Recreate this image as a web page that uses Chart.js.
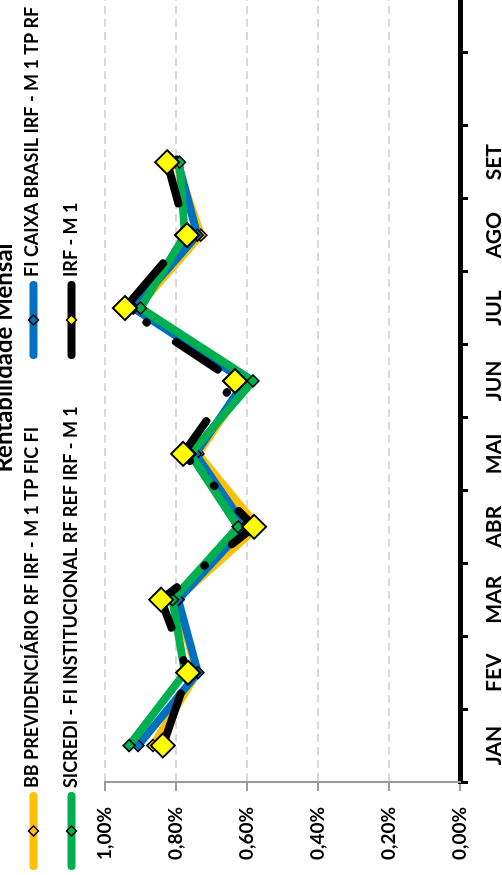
<!DOCTYPE html>
<html lang="pt-BR">
<head>
<meta charset="utf-8">
<title>Rentabilidade Mensal</title>
<script src="https://cdn.jsdelivr.net/npm/chart.js@4.4.1/dist/chart.umd.min.js"></script>
<style>
  html, body { margin: 0; padding: 0; width: 502px; height: 875px; overflow: hidden; background: #fff; }
  /* le graphique est dessiné à plat puis tourné d'un quart de tour */
  #cadre { position: absolute; left: 0; top: 875px; width: 1034px; height: 502px; transform-origin: 0 0; transform: rotate(-90deg); }
  #graphique { display: block; }
</style>
</head>
<body>
<div id="cadre"><canvas id="graphique" width="1034" height="502"></canvas></div>
<script>
// Données (rentabilité mensuelle en %)
const mois = ['JAN', 'FEV', 'MAR', 'ABR', 'MAI', 'JUN', 'JUL', 'AGO', 'SET', '', '', ''];
const etiquettesAxe = ['0,00%', '0,20%', '0,40%', '0,60%', '0,80%', '1,00%'];

const nomsSeries = [
  'BB PREVIDENCIÁRIO RF IRF - M 1 TP FIC FI',
  'FI CAIXA BRASIL IRF - M 1 TP RF',
  'SICREDI - FI INSTITUCIONAL RF REF IRF - M 1',
  'IRF - M 1'
];

const bbPrevidenciario = [0.865, 0.740, 0.800, 0.570, 0.738, 0.600, 0.910, 0.730, 0.800];
const caixaBrasil      = [0.907, 0.738, 0.794, 0.605, 0.745, 0.605, 0.920, 0.740, 0.795];
const sicredi          = [0.932, 0.775, 0.810, 0.625, 0.760, 0.583, 0.900, 0.775, 0.790];
const irfM1            = [0.837, 0.766, 0.842, 0.580, 0.780, 0.634, 0.944, 0.769, 0.825];

const couleurs = ['#FFC000', '#0070C0', '#00B050', '#000000'];
const remplissage = ['#FFC000', '#0070C0', '#00B050', '#FFFF00'];

// Titre et légende façon Excel (deux colonnes)
const enteteExcel = {
  id: 'enteteExcel',
  afterDraw(chart) {
    const ctx = chart.ctx;
    ctx.save();
    ctx.fillStyle = '#000';
    ctx.font = 'bold 24px Lato';
    ctx.textAlign = 'center';
    ctx.textBaseline = 'alphabetic';
    ctx.fillText('Rentabilidade Mensal', 517, 12);

    chart.data.datasets.forEach((ds, i) => {
      const x = i % 2 === 0 ? 9 : 520;
      const y = i < 2 ? 33.5 : 71.5;
      ctx.strokeStyle = ds.borderColor;
      ctx.lineWidth = 8;
      ctx.lineCap = 'round';
      ctx.setLineDash([]);
      ctx.beginPath();
      ctx.moveTo(x, y);
      ctx.lineTo(x + 70, y);
      ctx.stroke();

      // petit losange
      const cx = x + 35, r = 5;
      ctx.beginPath();
      ctx.moveTo(cx - r, y);
      ctx.lineTo(cx, y - r);
      ctx.lineTo(cx + r, y);
      ctx.lineTo(cx, y + r);
      ctx.closePath();
      ctx.fillStyle = ds.pointBackgroundColor;
      ctx.fill();
      ctx.lineWidth = 1.5;
      ctx.strokeStyle = '#000';
      ctx.stroke();

      ctx.fillStyle = '#000';
      ctx.font = 'bold 18px Lato';
      ctx.textAlign = 'left';
      ctx.fillText(ds.label, x + 78, i < 2 ? 38 : 76.5);
    });
    ctx.restore();
  }
};

function serie(index, valeurs) {
  return {
    label: nomsSeries[index],
    data: valeurs,
    borderColor: couleurs[index],
    borderWidth: 8,
    borderCapStyle: 'round',
    borderJoinStyle: 'round',
    tension: 0,
    pointStyle: 'rectRot',
    pointRadius: 6,
    pointHoverRadius: 6,
    pointBackgroundColor: remplissage[index],
    pointBorderColor: '#000',
    pointBorderWidth: 1.5,
    order: 4 - index // la dernière série passe au-dessus
  };
}

document.addEventListener('DOMContentLoaded', () => {
  const irf = serie(3, irfM1);
  irf.borderDash = [50, 35, 0.5, 34.5];
  irf.borderDashOffset = 115;
  irf.pointRadius = 12;
  irf.pointHoverRadius = 12;
  irf.pointBorderWidth = 2;

  new Chart(document.getElementById('graphique'), {
    type: 'line',
    data: {
      labels: mois,
      datasets: [serie(0, bbPrevidenciario), serie(1, caixaBrasil), serie(2, sicredi), irf]
    },
    plugins: [enteteExcel],
    options: {
      responsive: false,
      animation: false,
      events: [],
      layout: { padding: { top: 105, right: 66, bottom: 0, left: 0 } },
      scales: {
        x: {
          offset: true,
          grid: {
            offset: true,
            drawOnChartArea: false,
            tickLength: 8,
            tickWidth: 3,
            tickColor: '#000'
          },
          border: { color: '#000', width: 5 },
          ticks: {
            autoSkip: false,
            maxRotation: 0,
            padding: 13.4,
            color: '#000',
            font: { family: 'Lato', size: 21, weight: 'bold' }
          },
          afterFit: (scale) => { scale.height = 42; }
        },
        y: {
          min: 0,
          max: 1,
          ticks: {
            stepSize: 0.2,
            padding: 16,
            color: '#000',
            font: { family: 'Lato', size: 19, weight: 'bold' },
            callback: (v, i) => etiquettesAxe[i]
          },
          grid: {
            color: '#D9D9D9',
            lineWidth: 2,
            tickLength: 9,
            tickWidth: 2,
            tickColor: '#9A9A9A'
          },
          border: { color: '#9A9A9A', width: 2, dash: [8, 5] },
          afterFit: (scale) => { scale.width = 93; }
        }
      },
      plugins: {
        legend: { display: false },
        title: { display: false },
        tooltip: { enabled: false }
      }
    }
  });
});
</script>
</body>
</html>
